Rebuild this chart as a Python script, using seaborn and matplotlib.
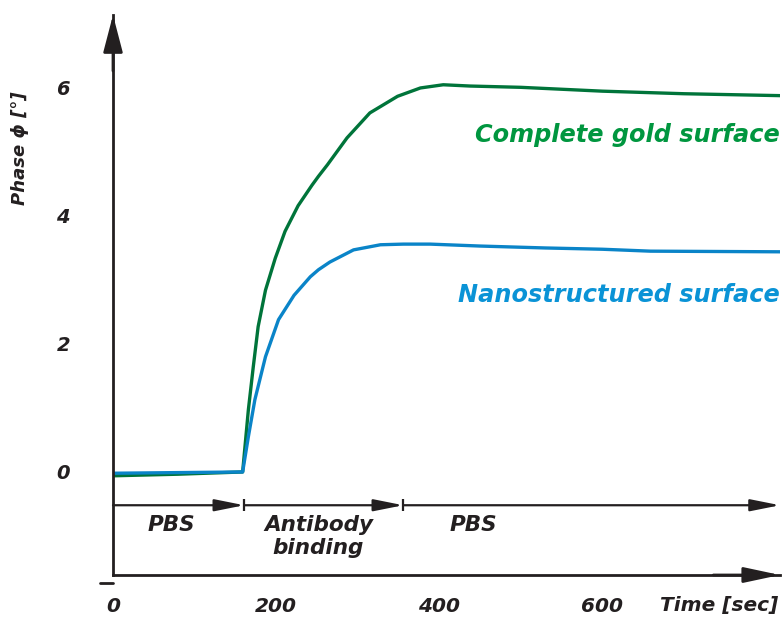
import numpy as np
import pandas as pd
import seaborn as sns
import matplotlib.pyplot as plt

# values (time in sec, phase in degrees)
time_gold = [0, 80, 159, 166, 172, 178, 187, 199, 211, 227, 244, 252, 263, 287, 315, 349, 377, 405, 438,
             500, 600, 700, 818]
phase_gold = [-0.06, -0.035, 0.0, 0.97, 1.64, 2.27, 2.84, 3.34, 3.76, 4.16, 4.48, 4.62, 4.80, 5.22, 5.61,
              5.87, 6.0, 6.05, 6.03, 6.01, 5.95, 5.91, 5.88]

time_nano = [0, 80, 159, 166, 174, 187, 203, 222, 242, 252, 266, 295, 328, 356, 389, 450, 530, 600, 659, 818]
phase_nano = [-0.02, -0.01, 0.0, 0.55, 1.13, 1.80, 2.38, 2.76, 3.05, 3.16, 3.28, 3.47, 3.55, 3.56, 3.56,
              3.53, 3.50, 3.48, 3.45, 3.44]

surfaces = ['Complete gold surface', 'Nanostructured surface']
line_colors = ['#00743A', '#0A84C8']
text_colors = ['#00963F', '#0A93D6']
label_y = [5.27, 2.77]

phase_edges = [0, 161, 356, 818]
phase_names = ['PBS', 'Antibody\nbinding', 'PBS']
phase_label_x = [72, 252, 442]
phase_row = -0.52

x_major = [0, 200, 400, 600]
x_minor = [50, 100, 150, 250, 300, 350, 450, 500, 550, 650, 700, 750]
y_major = [0, 2, 4, 6]
y_minor = [1, 3, 5]

ink = '#231F20'

sns.set_style('white')
plt.rcParams['font.family'] = ['DejaVu Sans']

df = pd.concat([
    pd.DataFrame({'time': time_gold, 'phase': phase_gold, 'surface': surfaces[0]}),
    pd.DataFrame({'time': time_nano, 'phase': phase_nano, 'surface': surfaces[1]}),
])

fig = plt.figure(figsize=(7.83, 6.17), dpi=100)
ax = fig.add_axes([113 / 783, 42 / 617, 667 / 783, 560 / 617])

sns.lineplot(data=df, x='time', y='phase', hue='surface', palette=dict(zip(surfaces, line_colors)),
             estimator=None, sort=False, lw=2.4, legend=False, ax=ax)

ax.set_xlim(0, 818)
ax.set_ylim(-1.61, 7.14)
ax.set_xlabel('')
ax.set_ylabel('')

# axes lines with arrow heads
for side in ['top', 'right']:
    ax.spines[side].set_visible(False)
for side in ['left', 'bottom']:
    ax.spines[side].set_color(ink)
    ax.spines[side].set_linewidth(2)
ax.annotate('', xy=(1, 0), xytext=(0.9, 0), xycoords='axes fraction',
            arrowprops=dict(arrowstyle='-|>,head_length=2.2,head_width=0.47', color=ink, lw=2, shrinkA=0, shrinkB=0))
ax.annotate('', xy=(0, 1), xytext=(0, 0.9), xycoords='axes fraction',
            arrowprops=dict(arrowstyle='-|>,head_length=2.3,head_width=0.6', color=ink, lw=2, shrinkA=0, shrinkB=0))

# ticks
ax.set_xticks(x_major)
ax.set_xticklabels([str(v) for v in x_major], fontsize=14.5, fontweight='bold', fontstyle='italic', color=ink)
ax.set_xticks(x_minor, minor=True)
ax.set_yticks(y_major)
ax.set_yticklabels([str(v) for v in y_major], fontsize=14, fontweight='bold', fontstyle='italic', color=ink)
ax.set_yticks(y_minor, minor=True)
ax.tick_params(axis='x', which='major', direction='out', length=8.5, width=2, color=ink, pad=7)
ax.tick_params(axis='x', which='minor', direction='out', length=7, width=2, color=ink)
ax.tick_params(axis='y', which='both', direction='out', length=9.4, width=2, color=ink, pad=21.5)
ax.xaxis.get_major_ticks()[0].tick1line.set_visible(False)
ax.plot([-16, 0], [-1.73, -1.73], color=ink, lw=2, clip_on=False)

# experiment phases row
for i in range(len(phase_names)):
    ax.annotate('', xy=(phase_edges[i + 1], phase_row), xytext=(phase_edges[i], phase_row),
                arrowprops=dict(arrowstyle='-|>,head_length=1.8,head_width=0.36', color=ink, lw=1.6,
                                shrinkA=0, shrinkB=0))
    ax.text(phase_label_x[i], phase_row - 0.16, phase_names[i], ha='center', va='top',
            fontsize=15.5, fontweight='bold', fontstyle='italic', color=ink, linespacing=1.15)
ax.plot(phase_edges[1:3], [phase_row, phase_row], ls='none', marker='|', ms=9, mew=1.6, color=ink)

# curve labels
for name, col, yy in zip(surfaces, text_colors, label_y):
    ax.text(818, yy, name, ha='right', va='center', fontsize=17.3, fontweight='bold',
            fontstyle='italic', color=col)

fig.text(20 / 783, 1 - 148 / 617, 'Phase ϕ [°]', rotation=90, ha='center', va='center',
         fontsize=13, fontweight='bold', fontstyle='italic', color=ink)
fig.text(778 / 783, 1 - 596 / 617, 'Time [sec]', ha='right', va='top',
         fontsize=14.5, fontweight='bold', fontstyle='italic', color=ink)

fig.savefig('out.png', dpi=100)
